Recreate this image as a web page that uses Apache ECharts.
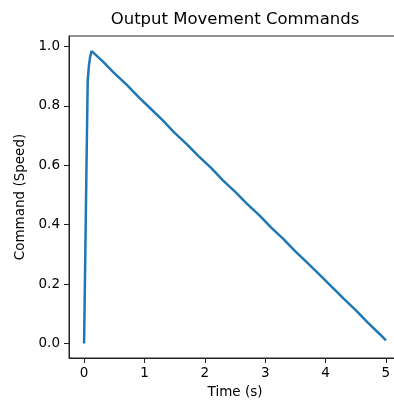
<!DOCTYPE html>
<html>
<head>
<meta charset="utf-8">
<script src="https://cdn.jsdelivr.net/npm/echarts@6/dist/echarts.min.js"></script>
<style>
	html, body { margin: 0; padding: 0; background: #fff; }
	#chart { width: 394px; height: 403px; }
</style>
</head>
<body>
<div id="chart"></div>
<script>
// values
var timeValues = [
	0, 0.02, 0.04, 0.06, 0.08, 0.10, 0.125,
	0.3, 0.5, 0.7, 0.9, 1.1, 1.3, 1.5, 1.7, 1.9, 2.1, 2.3, 2.5,
	2.7, 2.9, 3.1, 3.3, 3.5, 3.7, 3.9, 4.1, 4.3, 4.5, 4.7, 4.9, 5.0
]
var commandValues = [
	0, 0.3, 0.6, 0.885, 0.935, 0.965, 0.984,
	0.951, 0.910, 0.872, 0.830, 0.791, 0.752, 0.709, 0.671, 0.630, 0.592, 0.549, 0.511,
	0.470, 0.432, 0.390, 0.352, 0.310, 0.271, 0.232, 0.191, 0.151, 0.112, 0.070, 0.031, 0.010
]
var xTicks = [0, 1, 2, 3, 4, 5]
var yTicks = [0, 0.2, 0.4, 0.6, 0.8, 1.0]

function drawCommandChart(chartDom) {
	var myChart = echarts.init(chartDom)
	var seriesData = timeValues.map(function (t, i) {
		return [t, commandValues[i]]
	})
	var font = 'DejaVu Sans'

	var option = {
		animation: false,
		textStyle: { fontFamily: font },
		graphic: [
			{
				type: 'text',
				x: 235,
				y: 20,
				style: {
					text: 'Output Movement Commands',
					font: '16.5px "DejaVu Sans"',
					fill: '#000',
					textAlign: 'center',
					textVerticalAlign: 'middle',
				},
			},
		],
		grid: {
			left: 69,
			top: 36,
			right: -7,
			bottom: 45,
			show: true,
			borderWidth: 1,
			borderColor: '#222',
			containLabel: false,
			outerBoundsMode: 'none',
		},
		xAxis: {
			type: 'value',
			min: -0.25,
			max: 5.25,
			name: 'Time (s)',
			nameLocation: 'middle',
			nameGap: 27,
			nameTextStyle: { fontFamily: font, fontSize: 13.5, color: '#000' },
			splitLine: { show: false },
			axisLine: { show: true, onZero: false, lineStyle: { color: '#222', width: 1 } },
			axisTick: {
				show: true,
				length: 5,
				customValues: xTicks,
				lineStyle: { color: '#222' },
			},
			axisLabel: {
				customValues: xTicks,
				margin: 8,
				fontFamily: font,
				fontSize: 13.5,
				color: '#000',
			},
		},
		yAxis: {
			type: 'value',
			min: -0.049,
			max: 1.035,
			name: 'Command (Speed)',
			nameLocation: 'middle',
			nameGap: 42,
			nameRotate: 90,
			nameTextStyle: { fontFamily: font, fontSize: 13.5, color: '#000' },
			splitLine: { show: false },
			axisLine: { show: true, onZero: false, lineStyle: { color: '#222', width: 1 } },
			axisTick: {
				show: true,
				length: 5,
				customValues: yTicks,
				lineStyle: { color: '#222' },
			},
			axisLabel: {
				customValues: yTicks,
				margin: 9,
				fontFamily: font,
				fontSize: 13.5,
				color: '#000',
				formatter: function (v) {
					return v.toFixed(1)
				},
			},
		},
		series: [
			{
				type: 'line',
				data: seriesData,
				showSymbol: false,
				symbol: 'none',
				lineStyle: { color: '#1f77b4', width: 2.5 },
				itemStyle: { color: '#1f77b4' },
			},
		],
	}

	option && myChart.setOption(option)
}

drawCommandChart(document.getElementById('chart'))
</script>
</body>
</html>
